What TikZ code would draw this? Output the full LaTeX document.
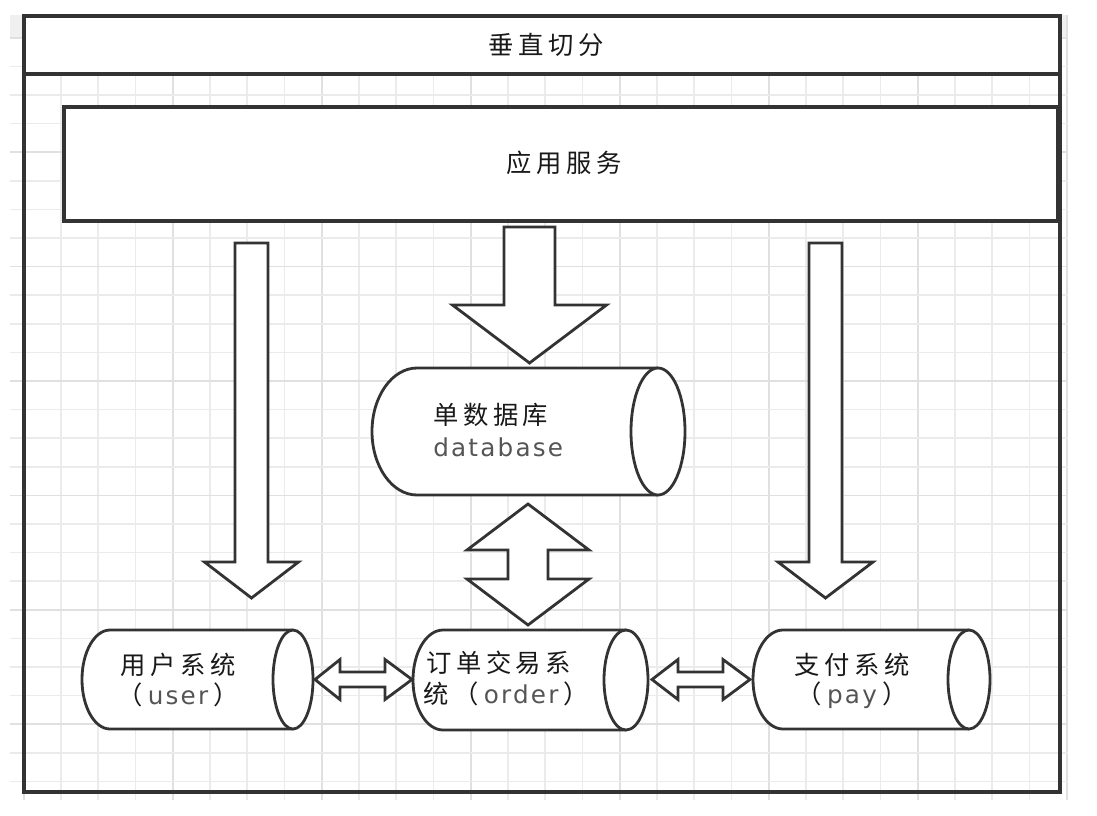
\documentclass[tikz,border=0pt]{standalone}
\usepackage{fontspec}
\newfontfamily\cjk[LetterSpace=18]{Noto Sans CJK SC}
\newfontfamily\lat[LetterSpace=9]{DejaVu Sans}
\definecolor{ink}{HTML}{333333}
\definecolor{gridc}{HTML}{EBEBEB}
\definecolor{gridm}{HTML}{E0E0E0}
\definecolor{latc}{HTML}{555555}
\definecolor{bandc}{HTML}{F0F0F0}
\newcommand{\en}[1]{{\fontsize{18.5}{21}\lat\color{latc}#1}}
% horizontal cylinder: L R T B leftcap-rx rightellipse-rx
\newcommand{\hcyl}[6]{%
  \draw[cyl] ({#2-#6},#3) -- ({#1+#5},#3)
     arc[start angle=-90,end angle=-270,x radius=#5,y radius={(#4-#3)/2}]
     -- ({#2-#6},#4);
  \draw[cyl] ({#2-#6},{(#3+#4)/2}) ellipse[x radius=#6, y radius={(#4-#3)/2}];}
% down block arrow: cx top headbase tip shafthalf headhalf
\newcommand{\downblock}[6]{%
  \draw[barrow] ({#1-#5},#2) -- ({#1+#5},#2) -- ({#1+#5},#3) -- ({#1+#6},#3)
    -- (#1,#4) -- ({#1-#6},#3) -- ({#1-#5},#3) -- cycle;}
% horizontal double block arrow: cy lefttip leftbase rightbase righttip shafthalf headhalf
\newcommand{\hdouble}[7]{%
  \draw[barrow] (#2,#1) -- (#3,{#1-#7}) -- (#3,{#1-#6}) -- (#4,{#1-#6}) -- (#4,{#1-#7})
    -- (#5,#1) -- (#4,{#1+#7}) -- (#4,{#1+#6}) -- (#3,{#1+#6}) -- (#3,{#1+#7}) -- cycle;}
\begin{document}
\begin{tikzpicture}[x=0.75pt,y=-0.75pt,
  box/.style={draw=ink, line width=2.6pt, fill=white},
  barrow/.style={draw=ink, line width=2.1pt, fill=white, line join=miter},
  cyl/.style={draw=ink, line width=2.1pt, fill=white},
  lbl/.style={inner sep=0pt, font=\fontsize{19}{22}\selectfont\cjk, text=black!90}]
\useasboundingbox (0,0) rectangle (1097,815);
\fill[white] (0,0) rectangle (1097,815);
% grid
\fill[bandc] (10,15) rectangle (24,37);
\fill[bandc] (1060,15) rectangle (1068,37);
\foreach \i in {0,...,28}{
  \pgfmathtruncatemacro{\m}{mod(\i,4)}
  \ifnum\m=0 \def\gc{gridm}\else\def\gc{gridc}\fi
  \draw[draw=\gc, line width=1.2pt] ({23.75+37.25*\i},15) -- ({23.75+37.25*\i},800);}
\foreach \j in {0,...,26}{
  \pgfmathtruncatemacro{\m}{mod(\j,4)}
  \ifnum\m=0 \def\gc{gridm}\else\def\gc{gridc}\fi
  \draw[draw=\gc, line width=1.2pt] (10,{37.8+28.6*\j}) -- (1068,{37.8+28.6*\j});}
% outer frame and title bar
\fill[white] (24,16) rectangle (1060,74);
\draw[ink, line width=2.8pt] (24,16) rectangle (1060,792);
\draw[ink, line width=2.6pt] (24,74) -- (1060,74);
\node[lbl] (title) at (546,45) {垂直切分};
% application box
\draw[box] (64,107) rectangle (1058,221);
\node[lbl] (app) at (564,163) {应用服务};
% arrows from the application
\downblock{251.5}{243}{562}{598}{16.5}{47}
\downblock{825.5}{243}{562}{598}{16.5}{47.5}
\downblock{529.5}{227}{305}{363}{25.5}{77}
% database cylinder
\hcyl{372}{685}{368}{495}{45}{27}
\node[lbl, anchor=west] (db1) at (433,415) {单数据库};
\node[lbl, anchor=west] (db2) at (433,447) {\en{database}};
% vertical double arrow
\draw[barrow] (528,504) -- (589,550) -- (548,550) -- (548,579) -- (589,579) -- (528,625)
  -- (467,579) -- (508,579) -- (508,550) -- (467,550) -- cycle;
% system cylinders
\hcyl{82}{313}{630}{729}{28}{20}
\node[lbl] (u1) at (178,665) {用户系统};
\node[lbl] (u2) at (178,695) {（\hspace{4pt}\en{user}\hspace{4pt}）};
\hcyl{413}{648}{630}{730}{30}{22}
\node[lbl, anchor=west] (o1) at (426,663) {订单交易系};
\node[lbl, anchor=west] (o2) at (423,694) {统（\hspace{4pt}\en{order}\hspace{4pt}）};
\hcyl{753}{990}{630}{729}{30}{21}
\node[lbl] (p1) at (852,665) {支付系统};
\node[lbl] (p2) at (852,695) {（\hspace{4pt}\en{pay}\hspace{4pt}）};
% horizontal double arrows
\hdouble{679.5}{315}{340}{385}{412}{7.5}{20}
\hdouble{679.5}{652}{678}{723}{750}{7.5}{20}
\end{tikzpicture}
\end{document}
